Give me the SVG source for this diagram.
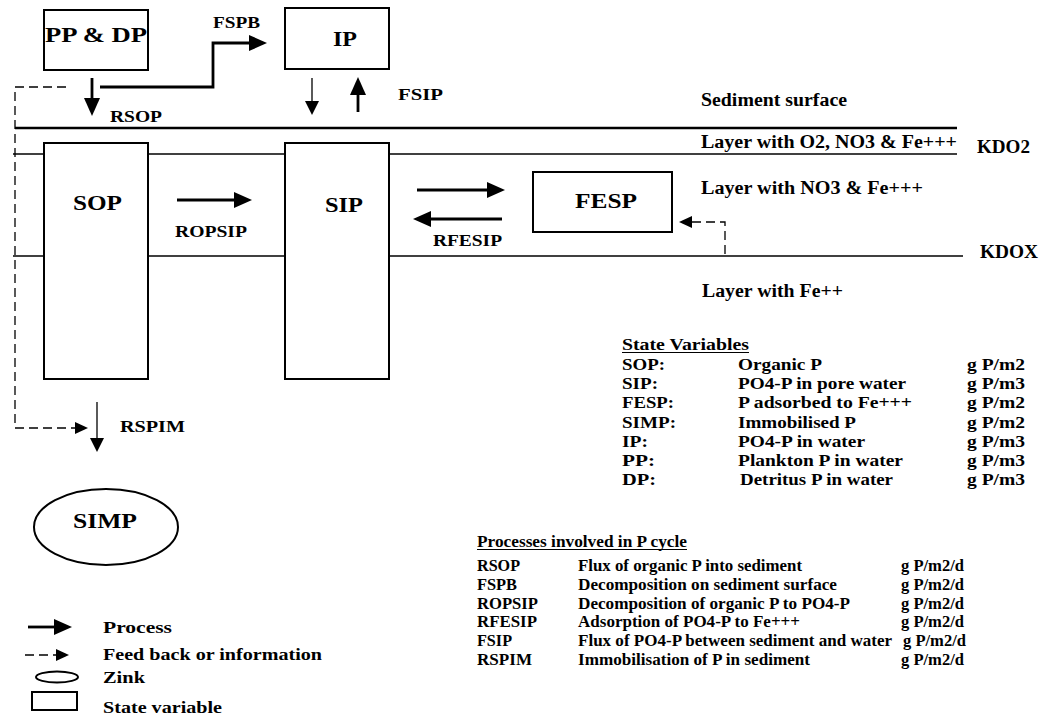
<svg xmlns="http://www.w3.org/2000/svg" width="1053" height="720" viewBox="0 0 1053 720" font-family="'Liberation Serif', 'DejaVu Serif', 'Times New Roman', serif" font-weight="bold">
<style>
text{font-family:'Liberation Serif','DejaVu Serif','Times New Roman',serif;font-weight:bold;fill:#000}
.big{font-size:21px}
.lbl{font-size:16px}
.lay{font-size:18px}
.tb{font-size:17px}
.box{fill:#fff;stroke:#000;stroke-width:2}
.thick{fill:none;stroke:#000;stroke-width:2.8}
.thin{fill:none;stroke:#000;stroke-width:1.3}
.dash{fill:none;stroke:#000;stroke-width:1.3;stroke-dasharray:9,5}
.layer{fill:none;stroke:#000;stroke-width:1.3}
.ul{stroke:#000;stroke-width:1.2}
</style>
<defs>
<marker id="headL" markerUnits="userSpaceOnUse" markerWidth="18" markerHeight="16" refX="0" refY="8" orient="auto" overflow="visible"><path d="M0,0 L18,8 L0,16 Z" fill="#000"/></marker>
<marker id="headS" markerUnits="userSpaceOnUse" markerWidth="14" markerHeight="14" refX="0" refY="7" orient="auto" overflow="visible"><path d="M0,0 L14,7 L0,14 Z" fill="#000"/></marker>
<marker id="headD" markerUnits="userSpaceOnUse" markerWidth="13" markerHeight="12" refX="0" refY="6" orient="auto" overflow="visible"><path d="M0,0 L13,6 L0,12 Z" fill="#000"/></marker>
</defs>
<rect width="1053" height="720" fill="#fff"/>

<g id="layers">
<line x1="15" y1="128" x2="957" y2="128" stroke="#000" stroke-width="2.6"/>
<line class="layer" x1="13" y1="154" x2="957" y2="154"/>
<line class="layer" x1="13" y1="256" x2="963" y2="256"/>
<text class="lay" x="701" y="106" textLength="146" lengthAdjust="spacingAndGlyphs">Sediment surface</text>
<text class="lay" x="701" y="148" textLength="256" lengthAdjust="spacingAndGlyphs">Layer with O2, NO3 &amp; Fe+++</text>
<text class="lay" x="977" y="153" textLength="53" lengthAdjust="spacingAndGlyphs">KDO2</text>
<text class="lay" x="701" y="194" textLength="222" lengthAdjust="spacingAndGlyphs">Layer with NO3 &amp; Fe+++</text>
<text class="lay" x="980" y="258" textLength="58" lengthAdjust="spacingAndGlyphs">KDOX</text>
<text class="lay" x="702" y="297" textLength="141" lengthAdjust="spacingAndGlyphs">Layer with Fe++</text>
</g>

<g id="node-ppdp">
<rect class="box" x="44" y="10" width="104" height="60"/>
<text class="big" x="45" y="42" textLength="102" lengthAdjust="spacingAndGlyphs">PP &amp; DP</text>
</g>
<g id="node-ip">
<rect class="box" x="285" y="8" width="104" height="61"/>
<text class="big" x="333" y="46" textLength="24" lengthAdjust="spacingAndGlyphs">IP</text>
</g>
<g id="node-sop">
<rect class="box" x="44" y="143" width="104" height="236"/>
<text class="big" x="73" y="210" textLength="49" lengthAdjust="spacingAndGlyphs">SOP</text>
</g>
<g id="node-sip">
<rect class="box" x="285" y="143" width="104" height="236"/>
<text class="big" x="325" y="212" textLength="38" lengthAdjust="spacingAndGlyphs">SIP</text>
</g>
<g id="node-fesp">
<rect class="box" x="533" y="172" width="139" height="60"/>
<text class="big" x="575" y="208" textLength="62" lengthAdjust="spacingAndGlyphs">FESP</text>
</g>
<g id="node-simp">
<ellipse class="box" cx="106" cy="527" rx="72" ry="38"/>
<text class="big" x="73" y="528" textLength="64" lengthAdjust="spacingAndGlyphs">SIMP</text>
</g>

<g id="connectors">
<line class="thick" x1="92" y1="78" x2="92" y2="98" marker-end="url(#headL)"/>
<path class="thick" d="M100,87 H213 V43 H249" marker-end="url(#headL)"/>
<line class="thin" x1="312" y1="78" x2="312" y2="101" marker-end="url(#headS)"/>
<line class="thick" x1="358" y1="112" x2="358" y2="95" marker-end="url(#headL)"/>
<line class="thick" x1="177" y1="200" x2="234" y2="200" marker-end="url(#headL)"/>
<line class="thick" x1="417" y1="190" x2="487" y2="190" marker-end="url(#headL)"/>
<line class="thick" x1="502" y1="219" x2="431" y2="219" marker-end="url(#headL)"/>
<path class="dash" d="M66,87 H15 V428 H75" marker-end="url(#headD)"/>
<path class="dash" d="M725,254 V222 H692" marker-end="url(#headD)"/>
<line class="thin" x1="97" y1="402" x2="97" y2="438" marker-end="url(#headS)"/>
<text class="lbl" x="213" y="28" textLength="47" lengthAdjust="spacingAndGlyphs">FSPB</text>
<text class="lbl" x="110" y="122" textLength="52" lengthAdjust="spacingAndGlyphs">RSOP</text>
<text class="lbl" x="398" y="100" textLength="45" lengthAdjust="spacingAndGlyphs">FSIP</text>
<text class="lbl" x="175" y="237" textLength="72" lengthAdjust="spacingAndGlyphs">ROPSIP</text>
<text class="lbl" x="433" y="246" textLength="69" lengthAdjust="spacingAndGlyphs">RFESIP</text>
<text class="lbl" x="120" y="432" textLength="65" lengthAdjust="spacingAndGlyphs">RSPIM</text>
</g>

<g id="state-variables">
<text class="tb" x="622" y="350" textLength="127" lengthAdjust="spacingAndGlyphs">State Variables</text>
<line class="ul" x1="622" y1="352.5" x2="749" y2="352.5"/>
<text class="tb" x="622" y="370" textLength="43" lengthAdjust="spacingAndGlyphs">SOP:</text><text class="tb" x="738" y="370" textLength="84" lengthAdjust="spacingAndGlyphs">Organic P</text><text class="tb" x="967" y="370" textLength="58" lengthAdjust="spacingAndGlyphs">g P/m2</text>
<text class="tb" x="622" y="389" textLength="36" lengthAdjust="spacingAndGlyphs">SIP:</text><text class="tb" x="738" y="389" textLength="168" lengthAdjust="spacingAndGlyphs">PO4-P in pore water</text><text class="tb" x="967" y="389" textLength="58" lengthAdjust="spacingAndGlyphs">g P/m3</text>
<text class="tb" x="622" y="408" textLength="52" lengthAdjust="spacingAndGlyphs">FESP:</text><text class="tb" x="738" y="408" textLength="174" lengthAdjust="spacingAndGlyphs">P adsorbed to Fe+++</text><text class="tb" x="967" y="408" textLength="58" lengthAdjust="spacingAndGlyphs">g P/m2</text>
<text class="tb" x="622" y="428" textLength="54" lengthAdjust="spacingAndGlyphs">SIMP:</text><text class="tb" x="738" y="428" textLength="118" lengthAdjust="spacingAndGlyphs">Immobilised P</text><text class="tb" x="967" y="428" textLength="58" lengthAdjust="spacingAndGlyphs">g P/m2</text>
<text class="tb" x="622" y="447" textLength="26" lengthAdjust="spacingAndGlyphs">IP:</text><text class="tb" x="738" y="447" textLength="127" lengthAdjust="spacingAndGlyphs">PO4-P in water</text><text class="tb" x="967" y="447" textLength="58" lengthAdjust="spacingAndGlyphs">g P/m3</text>
<text class="tb" x="622" y="466" textLength="33" lengthAdjust="spacingAndGlyphs">PP:</text><text class="tb" x="738" y="466" textLength="165" lengthAdjust="spacingAndGlyphs">Plankton P in water</text><text class="tb" x="967" y="466" textLength="58" lengthAdjust="spacingAndGlyphs">g P/m3</text>
<text class="tb" x="622" y="485" textLength="34" lengthAdjust="spacingAndGlyphs">DP:</text><text class="tb" x="740" y="485" textLength="153" lengthAdjust="spacingAndGlyphs">Detritus P in water</text><text class="tb" x="967" y="485" textLength="58" lengthAdjust="spacingAndGlyphs">g P/m3</text>
</g>

<g id="processes">
<text class="tb" x="477" y="547" textLength="210" lengthAdjust="spacingAndGlyphs">Processes involved in P cycle</text>
<line class="ul" x1="477" y1="549.5" x2="687" y2="549.5"/>
<text class="tb" x="477" y="571" textLength="43" lengthAdjust="spacingAndGlyphs">RSOP</text><text class="tb" x="578" y="571" textLength="224" lengthAdjust="spacingAndGlyphs">Flux of organic P into sediment</text><text class="tb" x="901" y="571" textLength="63" lengthAdjust="spacingAndGlyphs">g P/m2/d</text>
<text class="tb" x="477" y="590" textLength="40" lengthAdjust="spacingAndGlyphs">FSPB</text><text class="tb" x="578" y="590" textLength="259" lengthAdjust="spacingAndGlyphs">Decomposition on sediment surface</text><text class="tb" x="901" y="590" textLength="63" lengthAdjust="spacingAndGlyphs">g P/m2/d</text>
<text class="tb" x="477" y="609" textLength="61" lengthAdjust="spacingAndGlyphs">ROPSIP</text><text class="tb" x="578" y="609" textLength="272" lengthAdjust="spacingAndGlyphs">Decomposition of organic P to PO4-P</text><text class="tb" x="901" y="609" textLength="63" lengthAdjust="spacingAndGlyphs">g P/m2/d</text>
<text class="tb" x="477" y="627" textLength="60" lengthAdjust="spacingAndGlyphs">RFESIP</text><text class="tb" x="578" y="627" textLength="222" lengthAdjust="spacingAndGlyphs">Adsorption of PO4-P to Fe+++</text><text class="tb" x="901" y="627" textLength="63" lengthAdjust="spacingAndGlyphs">g P/m2/d</text>
<text class="tb" x="477" y="646" textLength="35" lengthAdjust="spacingAndGlyphs">FSIP</text><text class="tb" x="578" y="646" textLength="314" lengthAdjust="spacingAndGlyphs">Flux of PO4-P between sediment and water</text><text class="tb" x="903" y="646" textLength="63" lengthAdjust="spacingAndGlyphs">g P/m2/d</text>
<text class="tb" x="477" y="665" textLength="55" lengthAdjust="spacingAndGlyphs">RSPIM</text><text class="tb" x="578" y="665" textLength="232" lengthAdjust="spacingAndGlyphs">Immobilisation of P in sediment</text><text class="tb" x="901" y="665" textLength="63" lengthAdjust="spacingAndGlyphs">g P/m2/d</text>
</g>

<g id="legend">
<line class="thick" x1="28" y1="627" x2="54" y2="627" marker-end="url(#headL)"/>
<text class="tb" x="103" y="633" textLength="69" lengthAdjust="spacingAndGlyphs">Process</text>
<line class="dash" x1="25" y1="655" x2="56" y2="655" marker-end="url(#headD)"/>
<text class="tb" x="103" y="660" textLength="219" lengthAdjust="spacingAndGlyphs">Feed back or information</text>
<ellipse cx="57" cy="677" rx="21" ry="5.5" fill="none" stroke="#000" stroke-width="2"/>
<text class="tb" x="103" y="683" textLength="42" lengthAdjust="spacingAndGlyphs">Zink</text>
<rect x="32" y="692" width="45" height="18" fill="none" stroke="#000" stroke-width="2"/>
<text class="tb" x="103" y="713" textLength="119" lengthAdjust="spacingAndGlyphs">State variable</text>
</g>
</svg>
